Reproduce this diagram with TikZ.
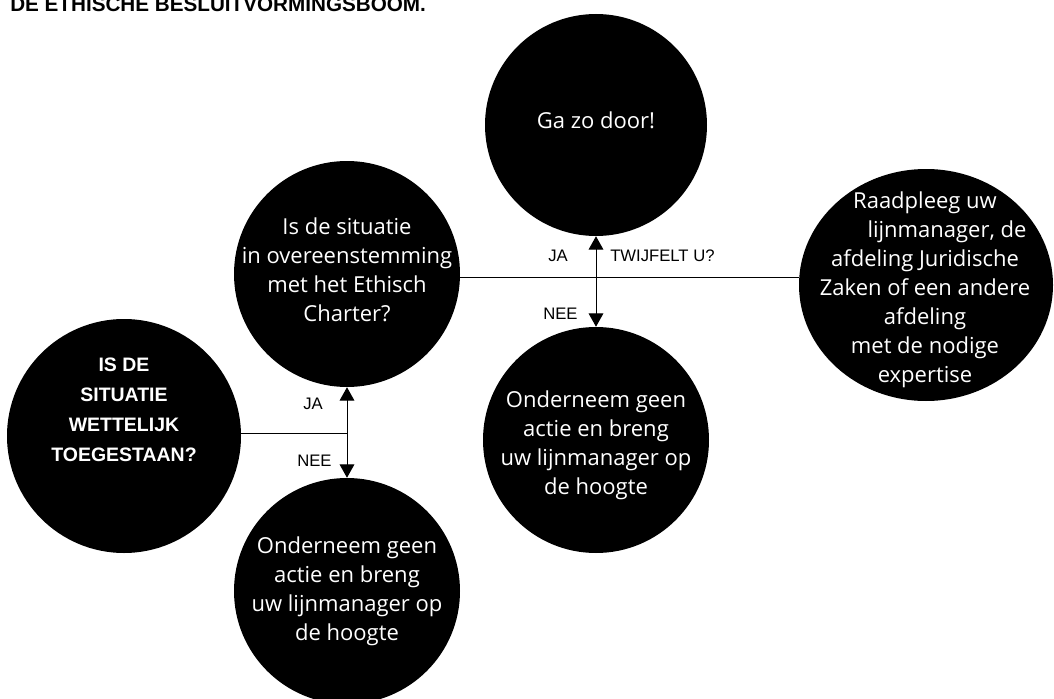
\documentclass[tikz,border=0pt]{standalone}
\usepackage{fontspec}
\setmainfont{Open Sans}
\newfontfamily\labelfont{Liberation Sans}
\usetikzlibrary{arrows.meta,shapes.geometric}

\begin{document}
\begin{tikzpicture}[x=0.75pt,y=-0.75pt,
	disc/.style={circle,fill=black,draw=none,inner sep=0pt},
	disctext/.style={text=white,align=center,inner sep=0pt,font=\fontsize{16.5}{21.75}\selectfont},
	answer/.style={anchor=base west,inner sep=0pt,font=\labelfont\fontsize{12.5}{15}\selectfont},
	link/.style={line width=0.75pt},
	choice/.style={line width=0.75pt,{Triangle[length=10pt,width=11pt]}-{Triangle[length=10pt,width=11pt]}}]
	\useasboundingbox (0,0) rectangle (1054,699);
	\node[anchor=base west,inner sep=0pt,font=\labelfont\bfseries\fontsize{15.5}{18}\selectfont] (title) at (10,12) {DE ETHISCHE BESLUITVORMINGSBOOM.};
	\node[disc,minimum size=166.5pt] (door) at (596,125) {};
	\node[disc,minimum size=169.5pt] (charter) at (347,274) {};
	\node[disc,ellipse,minimum width=190.5pt,minimum height=174pt] (consult) at (926,285) {};
	\node[disc,minimum size=175.5pt] (legal) at (124,436) {};
	\node[disc,minimum size=169.5pt] (stop1) at (596,440) {};
	\node[disc,minimum size=169.5pt] (stop2) at (347,591) {};
	\node[disctext] (doortext) at (596,120) {Ga zo door!};
	\node[disctext] (chartertext) at (347,270) {Is de situatie\\in overeenstemming\\met het Ethisch\\Charter?};
	\node[disctext] (consulttext) at (925,290) {Raadpleeg uw\\\hspace*{33pt}lijnmanager, de\\afdeling Juridische\\Zaken of een andere\hspace*{18pt}\\afdeling\\met de nodige\\expertise};
	\node[disctext,font=\labelfont\bfseries\fontsize{14.6}{22.5}\selectfont] (legaltext) at (124,410) {IS DE\\SITUATIE\\WETTELIJK\\TOEGESTAAN?};
	\node[disctext] (stop1text) at (596,445) {Onderneem geen\\actie en breng\\uw lijnmanager op\\de hoogte};
	\node[disctext] (stop2text) at (347,591) {Onderneem geen\\actie en breng\\uw lijnmanager op\\de hoogte};
	\coordinate (split1) at (596,277);
	\coordinate (split2) at (347,433);
	\draw[link] (split1 -| charter.east) -- (split1 -| consult.west);
	\draw[choice] (door.south) -- (stop1.north);
	\draw[link] (split2 -| legal.east) -- (split2);
	\draw[choice] (charter.south) -- (stop2.north);
	\node[answer] (ja1) at (548,261) {JA};
	\node[answer] (twijfel) at (610,261) {TWIJFELT U?};
	\node[answer] (nee1) at (543,319) {NEE};
	\node[answer] (ja2) at (303,409) {JA};
	\node[answer] (nee2) at (297,466) {NEE};
\end{tikzpicture}
\end{document}
